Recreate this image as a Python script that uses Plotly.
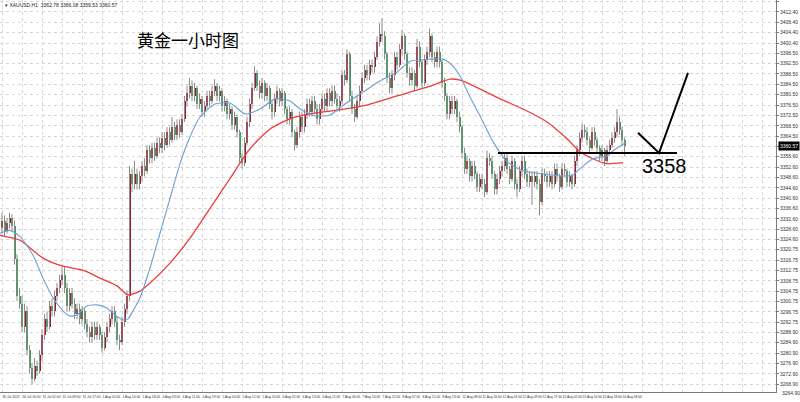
import plotly.graph_objects as go

# ---------------- data (XAUUSD H1) ----------------
OPEN = [
    3329, 3332, 3328, 3331, 3333, 3330, 3317, 3303, 3300, 3291,
    3297, 3282, 3275, 3271, 3276, 3274, 3280, 3288, 3294, 3291,
    3299, 3297, 3303, 3306, 3309, 3311, 3306, 3299, 3304, 3300,
    3296, 3298, 3294, 3297, 3292, 3289, 3287, 3291, 3288, 3291,
    3288, 3283, 3287, 3291, 3294, 3297, 3293, 3286, 3285, 3293,
    3298, 3303, 3350, 3346, 3350, 3346, 3349, 3353, 3351, 3359,
    3356, 3360, 3357, 3362, 3360, 3364, 3361, 3366, 3363, 3368,
    3365, 3369, 3366, 3371, 3378, 3381, 3384, 3380, 3383, 3377,
    3379, 3374, 3376, 3380, 3378, 3382, 3384, 3380, 3382, 3376,
    3378, 3373, 3375, 3369, 3372, 3366, 3356, 3354, 3362, 3370,
    3377, 3383, 3389, 3384, 3381, 3385, 3380, 3383, 3377, 3374,
    3379, 3382, 3378, 3381, 3375, 3371, 3374, 3366, 3361, 3366,
    3372, 3368, 3373, 3377, 3374, 3378, 3375, 3371, 3375, 3379,
    3376, 3381, 3378, 3382, 3379, 3376, 3378, 3388, 3386, 3396,
    3380, 3375, 3372, 3378, 3382, 3387, 3390, 3388, 3392, 3391,
    3395, 3401, 3404, 3403, 3396, 3387, 3383, 3388, 3395, 3392,
    3398, 3403, 3396, 3389, 3386, 3389, 3384, 3399, 3393, 3385,
    3394, 3397, 3403, 3395, 3393, 3397, 3393, 3385, 3380, 3373,
    3378, 3375, 3378, 3372, 3368, 3358, 3352, 3355, 3349, 3353,
    3350, 3345, 3348, 3346, 3343, 3356, 3355, 3350, 3344, 3348,
    3351, 3353, 3356, 3352, 3348, 3355, 3346, 3344, 3351, 3355,
    3350, 3347, 3349, 3347, 3349, 3346, 3339, 3350, 3349, 3347,
    3349, 3346, 3352, 3349, 3345, 3352, 3351, 3347, 3349, 3346,
    3355, 3359, 3364, 3367, 3366, 3363, 3360, 3366, 3363, 3360,
    3357, 3359, 3355, 3359, 3361, 3364, 3366, 3370, 3367, 3363,
]
HIGH = [
    3335, 3334, 3333, 3335, 3334.5, 3332, 3319, 3306, 3303, 3300,
    3299, 3284, 3277, 3279, 3278, 3282, 3290, 3296, 3297, 3301,
    3302, 3305, 3308, 3311, 3314, 3314, 3308, 3306, 3306, 3302,
    3300, 3300, 3299, 3298, 3294, 3291, 3293, 3293, 3293, 3292,
    3289, 3289, 3293, 3296, 3299, 3299, 3295, 3288, 3295, 3300,
    3305, 3353, 3352, 3355, 3352, 3351, 3355, 3356, 3361, 3361,
    3362, 3362, 3364, 3364, 3366, 3366, 3368, 3368, 3372, 3370,
    3371, 3371, 3373, 3380, 3384, 3387, 3386, 3385, 3384, 3381,
    3380, 3378, 3382, 3382, 3384, 3386.5, 3385, 3384, 3383, 3380,
    3379, 3377, 3376, 3374, 3373, 3367, 3358, 3364, 3372, 3379,
    3385, 3391.5, 3390, 3386, 3387, 3386, 3385, 3384, 3378, 3381,
    3384, 3383, 3383, 3382, 3376, 3376, 3375, 3367, 3368, 3374,
    3374, 3375, 3379, 3379, 3380, 3380, 3377, 3377, 3381, 3381,
    3383, 3383, 3384, 3384, 3381, 3380, 3390, 3390, 3398, 3397,
    3382, 3377, 3380, 3384, 3389, 3392, 3392, 3394, 3394, 3397,
    3403, 3408, 3410, 3405, 3397, 3389, 3390, 3397, 3397, 3400,
    3405.5, 3404, 3397, 3391, 3391, 3390, 3402, 3401, 3394, 3396,
    3399, 3406, 3404, 3397, 3399, 3399, 3394, 3387, 3381, 3380,
    3380, 3380, 3379, 3374, 3369, 3360, 3357, 3356, 3355, 3355,
    3351, 3350, 3350, 3348, 3359, 3358, 3357, 3351, 3350, 3353,
    3355, 3358, 3358, 3353, 3357, 3356, 3348, 3353, 3357, 3357,
    3352, 3351, 3351, 3351, 3351, 3348, 3352, 3352, 3351, 3351,
    3351, 3354, 3354, 3350, 3354, 3354, 3352, 3351, 3350, 3357,
    3361, 3366, 3369.5, 3369, 3368, 3364, 3368, 3368, 3364, 3361,
    3361, 3360, 3361, 3363, 3366, 3368, 3375, 3372, 3368, 3364,
]
LOW = [
    3327, 3326, 3327, 3329, 3328, 3315, 3301, 3298, 3289, 3289,
    3280, 3273, 3269, 3270, 3272, 3273, 3278, 3286, 3289, 3290,
    3295, 3295, 3301, 3304, 3307, 3304, 3297, 3297, 3298, 3294,
    3294, 3292, 3292, 3290, 3287, 3285, 3285, 3286, 3286, 3286,
    3281, 3282, 3285, 3289, 3292, 3291, 3284, 3282, 3284, 3291,
    3296, 3301, 3343, 3344, 3344, 3344, 3347, 3349, 3350, 3354,
    3354, 3355, 3356, 3358, 3358, 3359, 3360, 3361, 3362, 3363,
    3363, 3364, 3365, 3370, 3376, 3379, 3378, 3378, 3375, 3375,
    3372, 3372, 3375, 3376, 3377, 3380, 3378, 3378, 3374, 3374,
    3371, 3371, 3367, 3367, 3364, 3354, 3352, 3353, 3361, 3368,
    3375, 3382, 3382, 3379, 3379, 3378, 3378, 3375, 3371, 3372,
    3377, 3376, 3376, 3373, 3369, 3369, 3364, 3359, 3360, 3364,
    3366, 3366, 3371, 3372, 3372, 3373, 3369, 3369, 3373, 3374,
    3374, 3376, 3376, 3377, 3374, 3374, 3377, 3384, 3385, 3378,
    3373, 3370, 3371, 3376, 3381, 3385, 3386, 3386, 3389, 3389,
    3394, 3399, 3401, 3394, 3385, 3381, 3381, 3386, 3390, 3391,
    3396, 3394, 3387, 3384, 3384, 3382, 3383, 3391, 3383, 3384,
    3392, 3395, 3393, 3391, 3391, 3391, 3383, 3378, 3371, 3371,
    3373, 3373, 3370, 3366, 3356, 3350, 3350, 3347, 3347, 3348,
    3343, 3343, 3344, 3341, 3342, 3353, 3348, 3342, 3342, 3346,
    3349, 3351, 3350, 3346, 3347, 3344, 3341, 3343, 3349, 3348,
    3345, 3345, 3338, 3345, 3344, 3334, 3338, 3347, 3345, 3345,
    3344, 3345, 3347, 3343, 3344, 3349, 3345, 3345, 3344, 3345,
    3353, 3357, 3362, 3364, 3361, 3358, 3359, 3361, 3358, 3355,
    3355, 3353, 3354, 3357, 3360, 3362, 3364, 3365, 3361, 3357,
]
CLOSE = [
    3332, 3328, 3331, 3333, 3330, 3317, 3303, 3300, 3291, 3297,
    3282, 3275, 3271, 3276, 3274, 3280, 3288, 3294, 3291, 3299,
    3297, 3303, 3306, 3309, 3311, 3306, 3299, 3304, 3300, 3296,
    3298, 3294, 3297, 3292, 3289, 3287, 3291, 3288, 3291, 3288,
    3283, 3287, 3291, 3294, 3297, 3293, 3286, 3285, 3293, 3298,
    3303, 3350, 3346, 3350, 3346, 3349, 3353, 3351, 3359, 3356,
    3360, 3357, 3362, 3360, 3364, 3361, 3366, 3363, 3368, 3365,
    3369, 3366, 3371, 3378, 3381, 3384, 3380, 3383, 3377, 3379,
    3374, 3376, 3380, 3378, 3382, 3384, 3380, 3382, 3376, 3378,
    3373, 3375, 3369, 3372, 3366, 3356, 3354, 3362, 3370, 3377,
    3383, 3389, 3384, 3381, 3385, 3380, 3383, 3377, 3374, 3379,
    3382, 3378, 3381, 3375, 3371, 3374, 3366, 3361, 3366, 3372,
    3368, 3373, 3377, 3374, 3378, 3375, 3371, 3375, 3379, 3376,
    3381, 3378, 3382, 3379, 3376, 3378, 3388, 3386, 3396, 3380,
    3375, 3372, 3378, 3382, 3387, 3390, 3388, 3392, 3391, 3395,
    3401, 3404, 3403, 3396, 3387, 3383, 3388, 3395, 3392, 3398,
    3403, 3396, 3389, 3386, 3389, 3384, 3399, 3393, 3385, 3394,
    3397, 3403, 3395, 3393, 3397, 3393, 3385, 3380, 3373, 3378,
    3375, 3378, 3372, 3368, 3358, 3352, 3355, 3349, 3353, 3350,
    3345, 3348, 3346, 3343, 3356, 3355, 3350, 3344, 3348, 3351,
    3353, 3356, 3352, 3348, 3355, 3346, 3344, 3351, 3355, 3350,
    3347, 3349, 3347, 3349, 3346, 3339, 3350, 3349, 3347, 3349,
    3346, 3352, 3349, 3345, 3352, 3351, 3347, 3349, 3346, 3355,
    3359, 3364, 3367, 3366, 3363, 3360, 3366, 3363, 3360, 3357,
    3359, 3355, 3359, 3361, 3364, 3366, 3370, 3367, 3363, 3360.57,
]

# fast moving average (blue), read at bar positions
BLUE_X = [-0.8, 3.2, 7.2, 12.4, 16.4, 20.4, 24.4, 27.2, 30, 34,
          38, 42, 45.2, 48.4, 50.4, 52.4, 55.2, 59.2, 63.2, 67.2,
          71.2, 75.2, 79.2, 85.2, 91.2, 97.2, 103.2, 109.2, 115.2, 119.2,
          125.2, 131.2, 137.2, 144.4, 151.2, 158, 163.2, 171.2, 176.4, 180,
          183.2, 187.2, 191.2, 196.4, 202, 208.4, 215.2, 222, 228, 231.2,
          236.4, 242, 244.4, 248.8]
BLUE_Y = [3327.1, 3328.2, 3325.9, 3318.6, 3309.8, 3302.2, 3297.2, 3295.2, 3295.6, 3299.1,
          3299.5, 3298.3, 3295.6, 3293.7, 3294.1, 3297.2, 3302.2, 3313.7, 3327.1, 3340.5,
          3353.9, 3364.3, 3371.9, 3376.9, 3377.3, 3373.1, 3375.0, 3378.9, 3378.1, 3375.0,
          3372.3, 3372.7, 3376.9, 3381.5, 3385.8, 3389.2, 3393.4, 3394.2, 3394.2, 3391.9,
          3387.7, 3379.6, 3372.3, 3362.4, 3354.7, 3351.2, 3350.1, 3349.3, 3349.3, 3352.0,
          3355.8, 3357.0, 3358.9, 3361.6]

# slow moving average (red)
RED_X = [-0.8, 7.2, 16.4, 24.4, 32.4, 39.2, 46, 50.4, 55.2, 59.2,
         67.2, 75.2, 83.2, 91.2, 99.2, 107.2, 115.2, 123.2, 131.2, 144.4,
         158, 171.2, 179.2, 183.2, 187.2, 199.2, 208.4, 218, 226, 231.2,
         236.4, 242, 248.4]
RED_Y = [3326.3, 3324.4, 3317.5, 3314.4, 3312.9, 3309.8, 3306.8, 3303.3, 3304.8, 3307.9,
         3315.6, 3325.2, 3336.7, 3348.2, 3359.7, 3367.3, 3371.2, 3373.1, 3374.2, 3376.2,
         3380.0, 3383.8, 3386.5, 3386.1, 3384.6, 3378.9, 3375.0, 3370.0, 3363.5, 3358.5,
         3355.8, 3353.9, 3354.3]

X_TICK_LABELS = [
    "30 Jul 2025", "30 Jul 16:00", "31 Jul 01:00", "31 Jul 09:00", "31 Jul 17:00",
    "1 Aug 02:00", "1 Aug 10:00", "1 Aug 18:00", "4 Aug 03:00", "4 Aug 11:00",
    "4 Aug 19:00", "5 Aug 04:00", "5 Aug 12:00", "5 Aug 20:00", "6 Aug 05:00",
    "6 Aug 13:00", "6 Aug 21:00", "7 Aug 06:00", "7 Aug 14:00", "7 Aug 22:00",
    "8 Aug 07:00", "8 Aug 15:00", "8 Aug 23:00", "11 Aug 08:00", "11 Aug 16:00",
    "12 Aug 01:00", "12 Aug 09:00", "12 Aug 17:00", "13 Aug 02:00", "13 Aug 10:00",
    "13 Aug 18:00", "14 Aug 03:00",
]
Y_TICKS = [3268.90, 3272.90, 3276.90, 3280.90, 3284.90, 3288.90, 3292.75, 3296.75,
           3300.75, 3304.75, 3308.75, 3312.75, 3316.75, 3320.75, 3324.60, 3328.60,
           3332.60, 3336.60, 3340.60, 3344.60, 3348.60, 3352.60, 3356.60, 3360.50,
           3364.50, 3368.50, 3372.50, 3376.50, 3380.50, 3384.50, 3388.50, 3392.50,
           3396.50, 3400.40, 3404.40, 3408.40, 3412.40, 3416.40]
Y_BOTTOM_LABEL = 3264.90

LEVEL = 3358
TITLE = "黄金一小时图"
HEADER = "▾ XAUUSD,H1  3362.78 3366.08 3359.53 3360.57"

# ---------------- styling ----------------
BULL = "#a0172e"
BEAR = "#3c9a55"
WICK = "#8d8d8d"
GRID = "#d6d6d6"
AXIS = "#7a7a7a"

n = len(CLOSE)
idx = list(range(n))

wx, wy = [], []
for i in idx:
    wx += [i, i, None]
    wy += [LOW[i], HIGH[i], None]

base = [min(o, c) for o, c in zip(OPEN, CLOSE)]
height = [max(abs(c - o), 0.35) for o, c in zip(OPEN, CLOSE)]
colors = [BULL if c >= o else BEAR for o, c in zip(OPEN, CLOSE)]

fig = go.Figure()
fig.add_trace(go.Scatter(x=wx, y=wy, mode="lines",
                         line=dict(color=WICK, width=1), hoverinfo="skip"))
fig.add_trace(go.Bar(x=idx, base=base, y=height, width=0.8,
                     marker=dict(color=colors, line=dict(width=0)),
                     hoverinfo="skip"))
fig.add_trace(go.Scatter(x=RED_X, y=RED_Y, mode="lines",
                         line=dict(color="#f03a3a", width=1.3, shape="spline", smoothing=0.6),
                         hoverinfo="skip"))
fig.add_trace(go.Scatter(x=BLUE_X, y=BLUE_Y, mode="lines",
                         line=dict(color="#6b9fd3", width=1.1, shape="spline", smoothing=0.6),
                         hoverinfo="skip"))

x_pos = list(range(0, 305, 8))
x_text = X_TICK_LABELS + [""] * (len(x_pos) - len(X_TICK_LABELS))

fig.update_layout(
    template="none",
    width=800, height=402,
    margin=dict(l=0, r=24, t=0, b=10),
    paper_bgcolor="white", plot_bgcolor="white",
    showlegend=False,
    bargap=0,
    xaxis=dict(range=[-0.8, 309.6], tickmode="array", tickvals=x_pos, ticktext=x_text,
               showgrid=True, gridcolor=GRID, griddash="dot", gridwidth=1,
               zeroline=False, showline=True, linecolor=AXIS, linewidth=1,
               ticks="", ticklabelstandoff=1, tickangle=0,
               ticklabelposition="outside right",
               tickfont=dict(family="Liberation Sans", size=3.3, color="#333333"),
               automargin=False, fixedrange=True),
    yaxis=dict(range=[3265.9, 3417.0], side="right", tickmode="array",
               tickvals=Y_TICKS, ticktext=[f"{v:.2f}" for v in Y_TICKS],
               showgrid=True, gridcolor=GRID, griddash="dot", gridwidth=1,
               zeroline=False, showline=True, linecolor=AXIS, linewidth=1,
               ticks="outside", ticklen=2, tickcolor=AXIS,
               tickfont=dict(family="Liberation Sans", size=5, color="#333333"),
               automargin=False, fixedrange=True),
)

# support level and hand-drawn projection
fig.add_shape(type="line", xref="x", yref="y", x0=198.4, x1=270, y0=LEVEL, y1=LEVEL,
              line=dict(color="black", width=2))
fig.add_shape(type="path", xref="x", yref="y",
              path=f"M 254.4 3365.8 L 262.8 {LEVEL} L 274.4 3388.9",
              line=dict(color="black", width=2))

fig.add_annotation(text=TITLE, xref="paper", yref="paper", x=0.242, y=0.898,
                   xanchor="center", yanchor="middle",
                   showarrow=False, font=dict(family="Noto Sans CJK SC", size=17, color="black"))
fig.add_annotation(text=str(LEVEL), xref="paper", yref="paper", x=0.856, y=0.576,
                   xanchor="center", yanchor="middle",
                   showarrow=False, font=dict(family="Liberation Sans", size=20, color="black"))
fig.add_annotation(text=HEADER, xref="paper", yref="paper", x=0.004, y=1.0,
                   xanchor="left", yanchor="top", showarrow=False,
                   font=dict(family="Liberation Sans", size=5, color="#222222"))
fig.add_annotation(text=f"{CLOSE[-1]:.2f}", xref="paper", yref="y", x=1.0, y=CLOSE[-1],
                   xanchor="left", yanchor="middle", xshift=2, showarrow=False,
                   bgcolor="black", borderpad=1,
                   font=dict(family="Liberation Sans", size=5, color="white"))
fig.add_annotation(text=f"{Y_BOTTOM_LABEL:.2f}", xref="paper", yref="paper", x=1.0, y=-0.003,
                   xanchor="left", yanchor="middle", xshift=4, showarrow=False,
                   font=dict(family="Liberation Sans", size=5, color="#333333"))

fig.write_html("out.html", config={"displayModeBar": False},
               post_script="document.body.style.margin='0px';document.body.style.padding='0px';")
